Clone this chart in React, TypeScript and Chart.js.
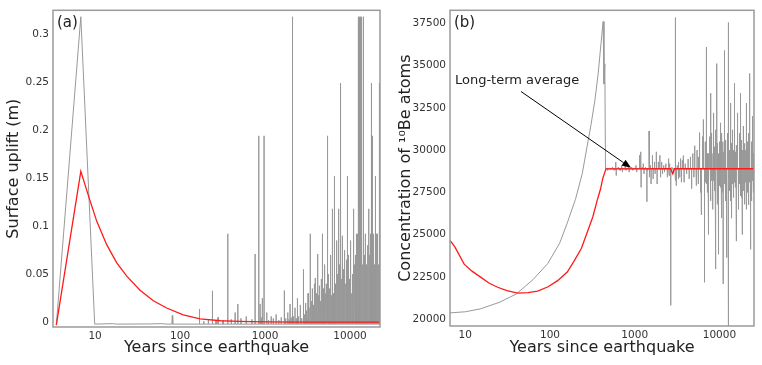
import React, { useEffect, useRef } from 'react';
import { Chart, registerables } from 'chart.js';

Chart.register(...registerables);

const FONT = '"DejaVu Sans", Verdana, sans-serif';

// ---------- shared x ticks ----------
const yearTickValues = [10, 100, 1000, 10000];
const yearTickLabels = ['10', '100', '1000', '10000'];

// ---------- Panel (a): surface uplift ----------
const upliftTickValues = [0, 0.05, 0.1, 0.15, 0.2, 0.25, 0.3];
const upliftTickLabels = ['0', '0.05', '0.1', '0.15', '0.2', '0.25', '0.3'];

const upliftMean: [number, number][] = [
  [3.5, -0.003], [6.8, 0.157], [8.57, 0.1286], [10.5, 0.1047], [13.7, 0.0807],
  [18, 0.0617], [23.6, 0.048], [33.8, 0.0333], [48.5, 0.0223], [69.6, 0.0148],
  [109, 0.0076], [172, 0.0035], [300, 0.0015], [500, 0.0008], [1000, 0.0004],
  [3000, 0.0001], [22500, 0],
];

// first event of the gray (single run) series
const upliftGrayStart: [number, number][] = [
  [3.5, -0.003], [6.8, 0.318], [9.9, -0.002], [16, -0.0015], [18, -0.002],
  [45, -0.0018], [60, -0.0015], [70, -0.002],
];
const upliftGrayBase = -0.002;
// later uplift pulses of the gray series: [year, uplift]
const upliftGraySpikes: [number, number][] = [
  [81, 0.007], [169, 0.0138], [190, 0.001], [215, 0.003], [240, 0.0326], [265, 0.002],
  [280, 0.005], [320, 0.002], [364, 0.092], [400, 0.003], [444, 0.010], [478, 0.019],
  [520, 0.004], [600, 0.006], [700, 0.003], [763, 0.071], [843, 0.194], [874, 0.019],
  [900, 0.005], [929, 0.025], [973, 0.194], [1047, 0.010], [1100, 0.002], [1180, 0.006],
  [1250, 0.004], [1350, 0.008], [1450, 0.002], [1550, 0.005], [1687, 0.033], [1750, 0.004],
  [1850, 0.010], [1920, 0.003], [1968, 0.019], [2030, 0.005], [2095, 0.318], [2110, 0.118],
  [2150, 0.006], [2250, 0.015], [2330, 0.004], [2405, 0.025], [2480, 0.006], [2600, 0.018],
  [2700, 0.004], [2830, 0.055], [2900, 0.008],
  [3000, 0.020], [3050, 0.003], [3100, 0.012], [3150, 0.002], [3200, 0.030], [3250, 0.004],
  [3300, 0.015], [3383, 0.092], [3420, 0.005], [3480, 0.022], [3520, 0.003], [3580, 0.035],
  [3620, 0.006], [3680, 0.018], [3720, 0.002], [3780, 0.040], [3830, 0.007], [3875, 0.046],
  [3920, 0.004], [3980, 0.025], [4030, 0.008], [4080, 0.030], [4130, 0.071], [4180, 0.006],
  [4230, 0.028], [4280, 0.003], [4330, 0.038], [4380, 0.010], [4440, 0.022], [4500, 0.005],
  [4560, 0.045], [4620, 0.012], [4680, 0.020], [4725, 0.092], [4780, 0.008], [4840, 0.035],
  [4900, 0.010], [4960, 0.060], [5020, 0.006], [5050, 0.020], [5080, 0.030], [5150, 0.012],
  [5220, 0.040], [5250, 0.025], [5300, 0.008], [5360, 0.152], [5410, 0.194], [5460, 0.010],
  [5500, 0.018], [5530, 0.050], [5600, 0.015], [5680, 0.035], [5720, 0.030], [5750, 0.006],
  [5830, 0.070], [5900, 0.012], [5950, 0.020], [5980, 0.028], [6060, 0.008], [6140, 0.045],
  [6200, 0.025], [6250, 0.118], [6300, 0.010], [6400, 0.030], [6450, 0.020], [6480, 0.152],
  [6540, 0.012], [6620, 0.060], [6680, 0.030], [6700, 0.008], [6800, 0.040], [6900, 0.015],
  [6950, 0.022], [7000, 0.085], [7100, 0.010], [7150, 0.030], [7200, 0.050], [7300, 0.012],
  [7360, 0.118], [7420, 0.020], [7450, 0.025], [7500, 0.060], [7560, 0.010], [7625, 0.249],
  [7700, 0.015], [7750, 0.030], [7800, 0.070], [7900, 0.012], [8000, 0.045], [8050, 0.025],
  [8100, 0.018], [8200, 0.090], [8300, 0.010], [8350, 0.030], [8400, 0.055], [8500, 0.020],
  [8600, 0.075], [8650, 0.028], [8700, 0.012], [8800, 0.040], [8900, 0.018], [8950, 0.032],
  [9000, 0.065], [9100, 0.015], [9200, 0.050], [9250, 0.030], [9300, 0.020], [9390, 0.152],
  [9480, 0.015], [9550, 0.030], [9600, 0.070], [9700, 0.022], [9800, 0.045], [9850, 0.028],
  [9900, 0.015], [10000, 0.085], [10100, 0.020], [10180, 0.032], [10250, 0.060], [10400, 0.015],
  [10480, 0.030], [10550, 0.050], [10700, 0.025], [10780, 0.035], [10850, 0.080], [10940, 0.118],
  [11050, 0.018], [11120, 0.030], [11200, 0.060], [11350, 0.020], [11430, 0.032], [11500, 0.070],
  [11650, 0.025], [11770, 0.092], [11830, 0.030], [11900, 0.020], [12050, 0.055], [12120, 0.035],
  [12200, 0.025], [12350, 0.092], [12420, 0.030], [12500, 0.020], [12650, 0.318], [12800, 0.030],
  [12880, 0.035], [12950, 0.318], [13100, 0.025], [13180, 0.030], [13250, 0.318], [13400, 0.040],
  [13480, 0.035], [13550, 0.318], [13710, 0.092], [13850, 0.030], [13930, 0.030], [14000, 0.060],
  [14200, 0.025], [14280, 0.035], [14350, 0.318], [14500, 0.030], [14600, 0.032], [14700, 0.070],
  [14900, 0.025], [15000, 0.035], [15100, 0.092], [15300, 0.030], [15400, 0.030], [15500, 0.060],
  [15700, 0.025], [15800, 0.035], [15900, 0.080], [16100, 0.030], [16250, 0.032], [16420, 0.118],
  [16600, 0.025], [16700, 0.035], [16800, 0.070], [17000, 0.030], [17100, 0.030], [17200, 0.092],
  [17400, 0.035], [17550, 0.035], [17650, 0.249], [17800, 0.030], [17900, 0.032], [18000, 0.092],
  [18150, 0.035], [18300, 0.194], [18400, 0.035], [18500, 0.030], [18700, 0.080], [18800, 0.030],
  [18900, 0.035], [19100, 0.092], [19200, 0.035], [19300, 0.030], [19500, 0.060], [19600, 0.032],
  [19700, 0.035], [19900, 0.035], [20050, 0.152], [20200, 0.030], [20300, 0.030], [20400, 0.092],
  [20600, 0.035], [20700, 0.035], [20800, 0.070], [21000, 0.030], [21100, 0.030], [21200, 0.092],
  [21400, 0.035], [21550, 0.035], [21700, 0.060], [21930, 0.249], [22000, 0.030], [22100, 0.030],
  [22300, 0.080], [22400, 0.035],
];

// ---------- Panel (b): 10Be concentration ----------
const beTickValues = [20000, 22500, 25000, 27500, 30000, 32500, 35000, 37500];
const beTickLabels = ['20000', '22500', '25000', '27500', '30000', '32500', '35000', '37500'];

const beMean: [number, number][] = [
  [6.6, 24662], [7.5, 24300], [9.7, 23264], [12, 22850], [15.3, 22483], [19, 22150],
  [24.1, 21900], [31, 21700], [41.6, 21550], [55, 21580], [71.5, 21667], [95, 21930],
  [123, 22290], [160, 22800], [193, 23456], [235, 24200], [278, 25204], [320, 26050],
  [366, 27145], [395, 27700], [419, 28311], [458, 28894], [2650, 28900], [2812, 28602],
  [2950, 28900], [25600, 28900],
];

// build-up of the gray (single run) series before the first pulse
const beGrayStart: [number, number][] = [
  [6.6, 20385], [10, 20450], [15, 20620], [25, 21000], [40, 21500], [63, 22350], [94, 23300],
  [130, 24500], [160, 25700], [200, 27100], [240, 28600], [276, 30300], [305, 31500],
  [340, 33000], [370, 34500], [400, 36300], [424, 37600], [434, 33900], [444, 35100],
  [452, 28900],
];
const beGrayBase = 28900;
// later excursions of the gray series: [year, concentration]
const beGraySpikes: [number, number][] = [
  [470, 28950], [480, 28800], [500, 28950], [520, 28850], [545, 29000], [570, 28800],
  [597, 29300], [605, 28500], [640, 29000], [670, 28800], [703, 29100], [715, 28700],
  [769, 29200], [790, 28800], [841, 29000], [860, 28700], [921, 29000], [950, 28800],
  [1000, 28950], [1035, 29100], [1060, 28700], [1100, 28900], [1133, 29700], [1150, 28900],
  [1178, 29900], [1190, 27800], [1230, 29000], [1262, 29200], [1290, 28600], [1340, 29000],
  [1393, 26950], [1420, 28800], [1475, 31130], [1500, 28400], [1530, 29100], [1560, 28000],
  [1620, 29700], [1650, 28300], [1710, 29300], [1740, 28600], [1800, 29900], [1840, 28000],
  [1900, 29300], [1980, 29700], [2020, 28400], [2080, 29300], [2130, 28600], [2200, 29100],
  [2250, 28700], [2330, 29200], [2430, 28400], [2500, 29500], [2540, 28500], [2600, 29200],
  [2663, 20830], [2750, 29000], [2850, 28600], [2991, 37830], [3050, 28200], [3100, 27900],
  [3180, 29100], [3253, 28300], [3320, 29300], [3400, 28400], [3480, 29500], [3560, 28100],
  [3650, 29400], [3750, 29675], [3830, 28100], [3950, 29200], [4100, 28600], [4270, 29477],
  [4400, 28300], [4550, 29600], [4700, 27728], [4850, 29800], [5000, 28400], [5070, 29500],
  [5140, 30258], [5300, 27900], [5380, 28300], [5450, 30000], [5600, 28000], [5680, 29600],
  [5750, 30500], [5880, 31034], [6000, 27500], [6080, 28200], [6160, 26178], [6300, 30800],
  [6380, 29700], [6470, 31808], [6670, 22191], [6770, 28100], [6850, 30500], [6950, 28000],
  [7080, 36085], [7180, 29800], [7250, 27500], [7350, 29800], [7420, 28000], [7500, 25012],
  [7650, 30800], [7720, 29900], [7800, 33364], [7950, 27000], [8000, 28200], [8050, 30000],
  [8150, 31000], [8300, 26500], [8400, 29800], [8500, 32198], [8600, 28200], [8700, 27600],
  [8750, 28000], [8800, 30200], [8900, 22972], [9050, 29900], [9100, 31200], [9300, 35112],
  [9370, 28100], [9400, 28000], [9500, 26800], [9600, 30400], [9700, 23846], [9800, 29800],
  [9950, 30500], [10100, 27900], [10200, 31615], [10300, 27800], [10380, 30000], [10450, 26000],
  [10600, 30200], [10650, 28000], [10700, 31000], [10900, 27500], [11000, 30500], [11050, 29900],
  [11100, 22098], [11350, 30500], [11450, 28000], [11600, 35888], [11700, 27800], [11780, 30000],
  [11850, 27000], [11950, 30600], [12100, 23650], [12250, 28000], [12400, 31000], [12550, 29800],
  [12700, 37540], [12710, 19400], [12900, 28100], [13000, 30000], [13200, 27600], [13300, 30000],
  [13400, 32781], [13550, 28000], [13650, 27000], [13780, 30400], [13900, 25980], [14000, 29900],
  [14100, 31200], [14300, 30800], [14400, 28000], [14500, 27200], [14700, 27500], [14800, 30000],
  [14900, 30600], [15050, 28100], [15200, 33946], [15350, 29900], [15500, 27800], [15700, 30300],
  [15850, 24622], [16000, 28000], [16200, 30500], [16350, 30000], [16500, 32198], [16700, 27400],
  [16800, 28100], [16900, 26500], [17100, 30800], [17200, 29800], [17300, 31000], [17450, 28000],
  [17600, 27300], [17850, 33364], [18050, 29900], [18200, 27200], [18400, 30600], [18500, 28000],
  [18600, 25012], [18800, 30000], [19000, 30500], [19100, 28000], [19200, 27600], [19400, 31423],
  [19600, 29800], [19800, 26800], [20000, 30400], [20100, 28100], [20200, 30000], [20400, 30000],
  [20600, 26500], [20800, 30200], [20900, 28000], [21000, 32781], [21200, 29900], [21400, 27500],
  [21600, 30500], [21700, 28200], [21850, 26760], [22100, 30000], [22300, 31000], [22500, 28100],
  [22700, 34529], [22950, 29800], [23200, 24138], [23450, 28000], [23700, 30500], [23950, 29900],
  [24200, 27000], [24450, 28200], [24700, 32000], [24950, 29800], [25200, 27500], [25400, 28100],
];

const noteText = 'Long-term average';
const noteTextAt: [number, number] = [7.55, 34121];
const noteArrowFrom: [number, number] = [45.5, 33463];
const noteArrowTo: [number, number] = [904, 28952];

// ---------- helpers ----------
const toPts = (arr: [number, number][]) => arr.map(([x, y]) => ({ x, y }));

// a single-year pulse in a yearly series: base the year before and after
function withPulses(start: [number, number][], pulses: [number, number][], base: number, end: number) {
  const pts = toPts(start);
  const sorted = [...pulses].sort((a, b) => a[0] - b[0]);
  for (const [yr, v] of sorted) {
    pts.push({ x: yr - 1, y: base }, { x: yr, y: v }, { x: yr + 1, y: base });
  }
  pts.push({ x: end, y: base });
  return pts;
}

const framePlugin = {
  id: 'frame',
  afterDatasetsDraw(chart: any, _args: any, opts: any) {
    const { ctx, chartArea: a } = chart;
    ctx.save();
    ctx.strokeStyle = '#9a9a9a';
    ctx.lineWidth = 1.5;
    ctx.strokeRect(a.left, a.top, a.right - a.left, a.bottom - a.top);
    ctx.fillStyle = '#222';
    ctx.font = `15px ${FONT}`;
    ctx.textAlign = 'left';
    ctx.textBaseline = 'middle';
    ctx.fillText(opts.label, a.left + 4, a.top + 13);
    if (opts.note) {
      const xs = chart.scales.x;
      const ys = chart.scales.y;
      const n = opts.note;
      ctx.font = `13px ${FONT}`;
      ctx.fillText(n.text, xs.getPixelForValue(n.at[0]), ys.getPixelForValue(n.at[1]));
      const x0 = xs.getPixelForValue(n.from[0]);
      const y0 = ys.getPixelForValue(n.from[1]);
      const x1 = xs.getPixelForValue(n.to[0]);
      const y1 = ys.getPixelForValue(n.to[1]);
      const ang = Math.atan2(y1 - y0, x1 - x0);
      const head = 9;
      const hw = 3.5;
      ctx.strokeStyle = '#000';
      ctx.lineWidth = 1;
      ctx.beginPath();
      ctx.moveTo(x0, y0);
      ctx.lineTo(x1 - head * Math.cos(ang), y1 - head * Math.sin(ang));
      ctx.stroke();
      ctx.fillStyle = '#000';
      ctx.beginPath();
      ctx.moveTo(x1, y1);
      ctx.lineTo(x1 - head * Math.cos(ang) + hw * Math.sin(ang), y1 - head * Math.sin(ang) - hw * Math.cos(ang));
      ctx.lineTo(x1 - head * Math.cos(ang) - hw * Math.sin(ang), y1 - head * Math.sin(ang) + hw * Math.cos(ang));
      ctx.closePath();
      ctx.fill();
    }
    ctx.restore();
  },
};

interface PanelProps {
  mean: { x: number; y: number }[];
  gray: { x: number; y: number }[];
  xMin: number;
  xMax: number;
  yMin: number;
  yMax: number;
  yTicks: number[];
  yLabels: string[];
  yTitle: string;
  yAxisWidth: number;
  yTitlePad: number;
  xAxisHeight: number;
  padRight: number;
  label: string;
  note?: any;
}

function Panel(p: PanelProps) {
  const ref = useRef<HTMLCanvasElement | null>(null);
  useEffect(() => {
    if (!ref.current) return;
    const chart = new Chart(ref.current, {
      type: 'line',
      data: {
        datasets: [
          {
            data: p.mean,
            borderColor: '#ff1a1a',
            borderWidth: 1.3,
            pointRadius: 0,
            fill: false,
            tension: 0,
          },
          {
            data: p.gray,
            borderColor: '#999999',
            borderWidth: 1,
            pointRadius: 0,
            fill: false,
            tension: 0,
          },
        ],
      },
      options: {
        responsive: false,
        animation: false,
        devicePixelRatio: 1,
        layout: { padding: { left: 0, top: 6, right: p.padRight, bottom: 0 } },
        plugins: {
          legend: { display: false },
          tooltip: { enabled: false },
          frame: { label: p.label, note: p.note },
        } as any,
        scales: {
          x: {
            type: 'logarithmic',
            min: p.xMin,
            max: p.xMax,
            grid: { display: false, drawTicks: false },
            border: { display: false },
            afterBuildTicks: (s: any) => {
              s.ticks = yearTickValues.map((v) => ({ value: v }));
            },
            afterFit: (s: any) => {
              s.height = p.xAxisHeight;
            },
            ticks: {
              autoSkip: false,
              maxRotation: 0,
              padding: 3,
              color: '#333',
              font: { family: FONT, size: 10.5 },
              callback: (_v: any, i: number) => yearTickLabels[i],
            },
            title: {
              display: true,
              text: 'Years since earthquake',
              color: '#222',
              font: { family: FONT, size: 16 },
              padding: { top: 0, bottom: 8 },
            },
          },
          y: {
            type: 'linear',
            min: p.yMin,
            max: p.yMax,
            grid: { display: false, drawTicks: false },
            border: { display: false },
            afterBuildTicks: (s: any) => {
              s.ticks = p.yTicks.map((v) => ({ value: v }));
            },
            afterFit: (s: any) => {
              s.width = p.yAxisWidth;
            },
            ticks: {
              autoSkip: false,
              padding: 4,
              color: '#333',
              font: { family: FONT, size: 10.5 },
              callback: (_v: any, i: number) => p.yLabels[i],
            },
            title: {
              display: true,
              text: p.yTitle,
              color: '#222',
              font: { family: FONT, size: 16 },
              padding: { top: p.yTitlePad, bottom: 0 },
            },
          },
        },
      } as any,
      plugins: [framePlugin as any],
    });
    return () => chart.destroy();
  }, []);
  return <canvas ref={ref} width={381} height={365} style={{ display: 'block' }} />;
}

export default function App() {
  return (
    <div style={{ position: 'absolute', left: 0, top: 0, width: 762, height: 365, display: 'flex', background: '#fff' }}>
      <Panel
        mean={toPts(upliftMean)}
        gray={withPulses(upliftGrayStart, upliftGraySpikes, upliftGrayBase, 22500)}
        xMin={3.2}
        xMax={22500}
        yMin={-0.005}
        yMax={0.3247}
        yTicks={upliftTickValues}
        yLabels={upliftTickLabels}
        yTitle="Surface uplift (m)"
        yAxisWidth={53}
        yTitlePad={4}
        xAxisHeight={38}
        padRight={1}
        label="(a)"
      />
      <Panel
        mean={toPts(beMean)}
        gray={withPulses(beGrayStart, beGraySpikes, beGrayBase, 25600)}
        xMin={6.6}
        xMax={25600}
        yMin={19610}
        yMax={38260}
        yTicks={beTickValues}
        yLabels={beTickLabels}
        yTitle="Concentration of ¹⁰Be atoms"
        yAxisWidth={69}
        yTitlePad={15}
        xAxisHeight={39}
        padRight={8}
        label="(b)"
        note={{ text: noteText, at: noteTextAt, from: noteArrowFrom, to: noteArrowTo }}
      />
    </div>
  );
}
